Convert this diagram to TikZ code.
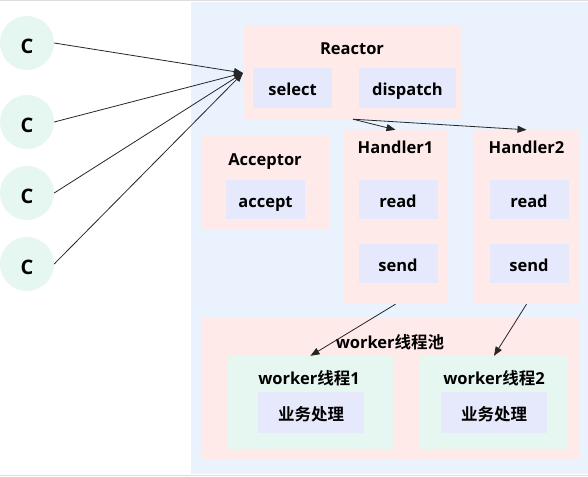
\documentclass[tikz,border=0pt]{standalone}
\usepackage{fontspec}
\setmainfont{Open Sans}[BoldFont={Open Sans Bold}]
\newfontfamily\cjk{Noto Sans CJK SC}[BoldFont={Noto Sans CJK SC Bold}]
\usetikzlibrary{arrows.meta}
\definecolor{fondbleu}{HTML}{EAF2FE}
\definecolor{rose}{HTML}{FFEAEA}
\definecolor{lavande}{HTML}{E6E8FB}
\definecolor{menthe}{HTML}{E6F7F2}
\definecolor{gris}{HTML}{DEDEDE}
\tikzset{
  zone/.style={rectangle, fill=rose, inner sep=0pt},
  travail/.style={rectangle, fill=menthe, inner sep=0pt},
  bloc/.style={rectangle, fill=lavande, inner sep=0pt,
    font=\fontsize{16.5}{20}\selectfont\bfseries,
    text height=15.9pt, text depth=0pt},
  titre/.style={inner sep=0pt, font=\fontsize{16.5}{20}\selectfont\bfseries,
    text height=11.9pt, text depth=0pt},
  client/.style={circle, fill=menthe, minimum size=54pt, inner sep=0pt,
    font=\fontsize{20}{24}\selectfont\bfseries,
    text height=20.4pt, text depth=0pt},
  fleche/.style={-{Triangle[length=9pt,width=7pt]}, line width=0.8pt, black!85}
}
\begin{document}
\begin{tikzpicture}[x=1pt,y=-1pt]
  \useasboundingbox (0,0) rectangle (588,476);
  % Fond
  \fill[white] (0,0) rectangle (588,476);
  \fill[fondbleu] (191,2) rectangle (588,474);
  \fill[gris] (0,0) rectangle (588,1.5);
  \fill[gris] (0,474.5) rectangle (588,476);
  % Clients
  \foreach \i/\y in {1/43,2/122,3/193,4/264}
    \node[client] (c\i) at (27,\y) {C};
  % Reactor
  \node[zone, minimum width=218, minimum height=94] (reactor) at (353,72) {};
  \node[titre] (treactor) at (352,49) {Reactor};
  \node[bloc, minimum width=79, minimum height=40] (select) at (292.5,88) {select};
  \node[bloc, minimum width=97, minimum height=40] (dispatch) at (407.5,88) {dispatch};
  % Acceptor
  \node[zone, minimum width=128, minimum height=93] (acceptor) at (265,182.5) {};
  \node[titre] (tacceptor) at (265,160) {Acceptor};
  \node[bloc, minimum width=79, minimum height=39] (accept) at (265.5,199.5) {accept};
  % Handlers
  \foreach \i/\x in {1/395.5,2/526.5} {
    \node[zone, minimum width=105, minimum height=174] (h\i) at (\x,217) {};
    \node[titre] (th\i) at (\x,148) {Handler\i};
    \node[bloc, minimum width=79, minimum height=39] (read\i) at (\x+2.5,199.5) {read};
    \node[bloc, minimum width=79, minimum height=39] (send\i) at (\x+2.5,263.5) {send};
  }
  % Pool de workers
  \node[zone, minimum width=377, minimum height=141] (pool) at (390.5,388.5) {};
  \node[titre] (tpool) at (390,343) {worker{\cjk 线程池}};
  \node[travail, minimum width=165, minimum height=93] (w1) at (310.5,402.5) {};
  \node[travail, minimum width=148, minimum height=93] (w2) at (494,402.5) {};
  \node[titre] (tw1) at (309,379) {worker{\cjk 线程}1};
  \node[titre] (tw2) at (494,379) {worker{\cjk 线程}2};
  \node[bloc, minimum width=106, minimum height=41] (biz1) at (311,412.5) {\cjk 业务处理};
  \node[bloc, minimum width=106, minimum height=41] (biz2) at (494,412.5) {\cjk 业务处理};
  % Fleches
  \coordinate (hub) at (243,73);
  \foreach \i in {1,...,4}
    \draw[fleche] (c\i.east) -- (hub);
  \draw[fleche] (reactor.south) -- (h1.north);
  \draw[fleche] (reactor.south) -- (h2.north);
  \draw[fleche] (h1.south) -- (w1.north);
  \draw[fleche] (h2.south) -- (w2.north);
\end{tikzpicture}
\end{document}
